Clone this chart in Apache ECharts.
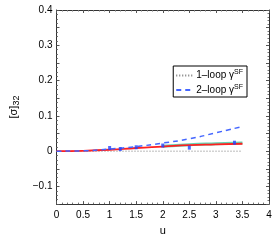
<!DOCTYPE html>
<html><head><meta charset="utf-8">
<script src="https://cdn.jsdelivr.net/npm/echarts@6/dist/echarts.min.js"></script>
<style>html,body{margin:0;padding:0;background:#fff}#c{width:278px;height:241px}</style>
</head><body><div id="c"></div>
<script>
const uLine = [0, 0.5, 1, 1.5, 2, 2.5, 3, 3.5];
const oneLoop = [0, 0, 0, 0, 0, 0, 0, 0];
const twoLoop = [0, 0.001, 0.006, 0.013, 0.023, 0.035, 0.052, 0.07];
const redFit = [0, 0.001, 0.004, 0.009, 0.013, 0.017, 0.019, 0.021];
const greenU = [2, 2.5, 3, 3.5];
const greenFit = [0.014, 0.0185, 0.021, 0.023];
const ptsU = [1, 1.2, 1.5, 2, 2.5, 3.35];
const ptsV = [0.009, 0.006, 0.011, 0.016, 0.010, 0.024];
const xTicks = [0, 0.5, 1, 1.5, 2, 2.5, 3, 3.5, 4];
const yLabels = [-0.1, 0, 0.1, 0.2, 0.3, 0.4];

const zip = (a, b) => a.map((v, i) => [v, b[i]]);
const font = 'Liberation Sans, Arial, sans-serif';
const chart = echarts.init(document.getElementById('c'));
const axisCommon = {
  axisLine: {show: true, onZero: false, lineStyle: {color: '#333', width: 1}},
  axisTick: {show: true, inside: true, length: 3, lineStyle: {color: '#555'}},
  minorTick: {show: true, splitNumber: 5, length: 1.5, lineStyle: {color: '#777'}},
  splitLine: {show: false}
};
chart.setOption({
  animation: false,
  textStyle: {fontFamily: font},
  grid: {left: 48, right: 9, top: 10, bottom: 29},
  xAxis: [
    Object.assign({type: 'value', min: 0, max: 4, interval: 0.5, position: 'bottom',
      name: 'u', nameLocation: 'middle', nameGap: 17,
      nameTextStyle: {color: '#000', fontSize: 11, fontFamily: font},
      axisLabel: {color: '#000', fontSize: 10, margin: 6, fontFamily: font,
        formatter: v => xTicks.includes(v) ? String(v) : ''}}, axisCommon),
    Object.assign({type: 'value', min: 0, max: 4, interval: 0.5, position: 'top',
      axisLabel: {show: false}}, axisCommon)
  ],
  yAxis: [
    Object.assign({type: 'value', min: -0.15, max: 0.4, interval: 0.05, position: 'left',
      name: '{a|[σ]}{s|32}', nameLocation: 'middle', nameGap: 35,
      nameTextStyle: {rich: {a: {fontSize: 11, color: '#000', fontFamily: font},
        s: {fontSize: 9, color: '#000', verticalAlign: 'bottom', padding: [7, 0, 0, 0], fontFamily: font}}},
      axisLabel: {color: '#000', fontSize: 10, margin: 4, fontFamily: font,
        formatter: v => { const r = Math.round(v * 10) / 10; return Math.abs(r - v) < 1e-6 && yLabels.includes(r) ? (r === 0 ? '0' : (r < 0 ? '\u2212' + Math.abs(r) : String(r))) : ''; }}}, axisCommon,
      {minorTick: {show: true, splitNumber: 4, length: 1.5, lineStyle: {color: '#777'}}}),
    Object.assign({type: 'value', min: -0.15, max: 0.4, interval: 0.05, position: 'right',
      axisLabel: {show: false}}, axisCommon)
  ],
  legend: {
    right: 31, top: 66, orient: 'vertical', itemWidth: 18, itemHeight: 6, itemGap: 3,
    padding: [3, 4, 2, 2], borderColor: '#000', borderWidth: 1, backgroundColor: '#fff',
    data: ['1-loop', '2-loop'],
    itemStyle: {opacity: 0},
    formatter: n => n === '1-loop' ? '{t|1\u2013loop \u03b3}{s|SF}' : '{t|2\u2013loop \u03b3}{s|SF}',
    textStyle: {padding: [0, 0, 0, -3], rich: {t: {fontSize: 10, color: '#000', fontFamily: font},
      s: {fontSize: 7, color: '#000', verticalAlign: 'top', padding: [0, 0, 6, 0], fontFamily: font}}}
  },
  series: [
    {name: '1-loop', type: 'line', data: zip(uLine, oneLoop), showSymbol: false, symbol: 'none',
      lineStyle: {color: '#777', width: 1, type: [1, 2]}, itemStyle: {color: '#777'}, z: 2},
    {name: 'green', type: 'line', data: zip(greenU, greenFit), showSymbol: false, symbol: 'none', smooth: true,
      lineStyle: {color: '#40c8a0', width: 3, opacity: 0.8}, z: 3},
    {name: 'red', type: 'line', data: zip(uLine, redFit), showSymbol: false, symbol: 'none', smooth: true,
      lineStyle: {color: '#ff2020', width: 1.8}, z: 4},
    {name: '2-loop', type: 'line', data: zip(uLine, twoLoop), showSymbol: false, symbol: 'none', smooth: true,
      lineStyle: {color: '#4466ff', width: 1.5, type: [5, 4]}, itemStyle: {color: '#4466ff'}, z: 5},
    {name: 'pts', type: 'scatter', data: zip(ptsU, ptsV), symbol: 'rect', symbolSize: [3, 4],
      itemStyle: {color: '#2244ff'}, z: 6}
  ]
});
</script></body></html>
